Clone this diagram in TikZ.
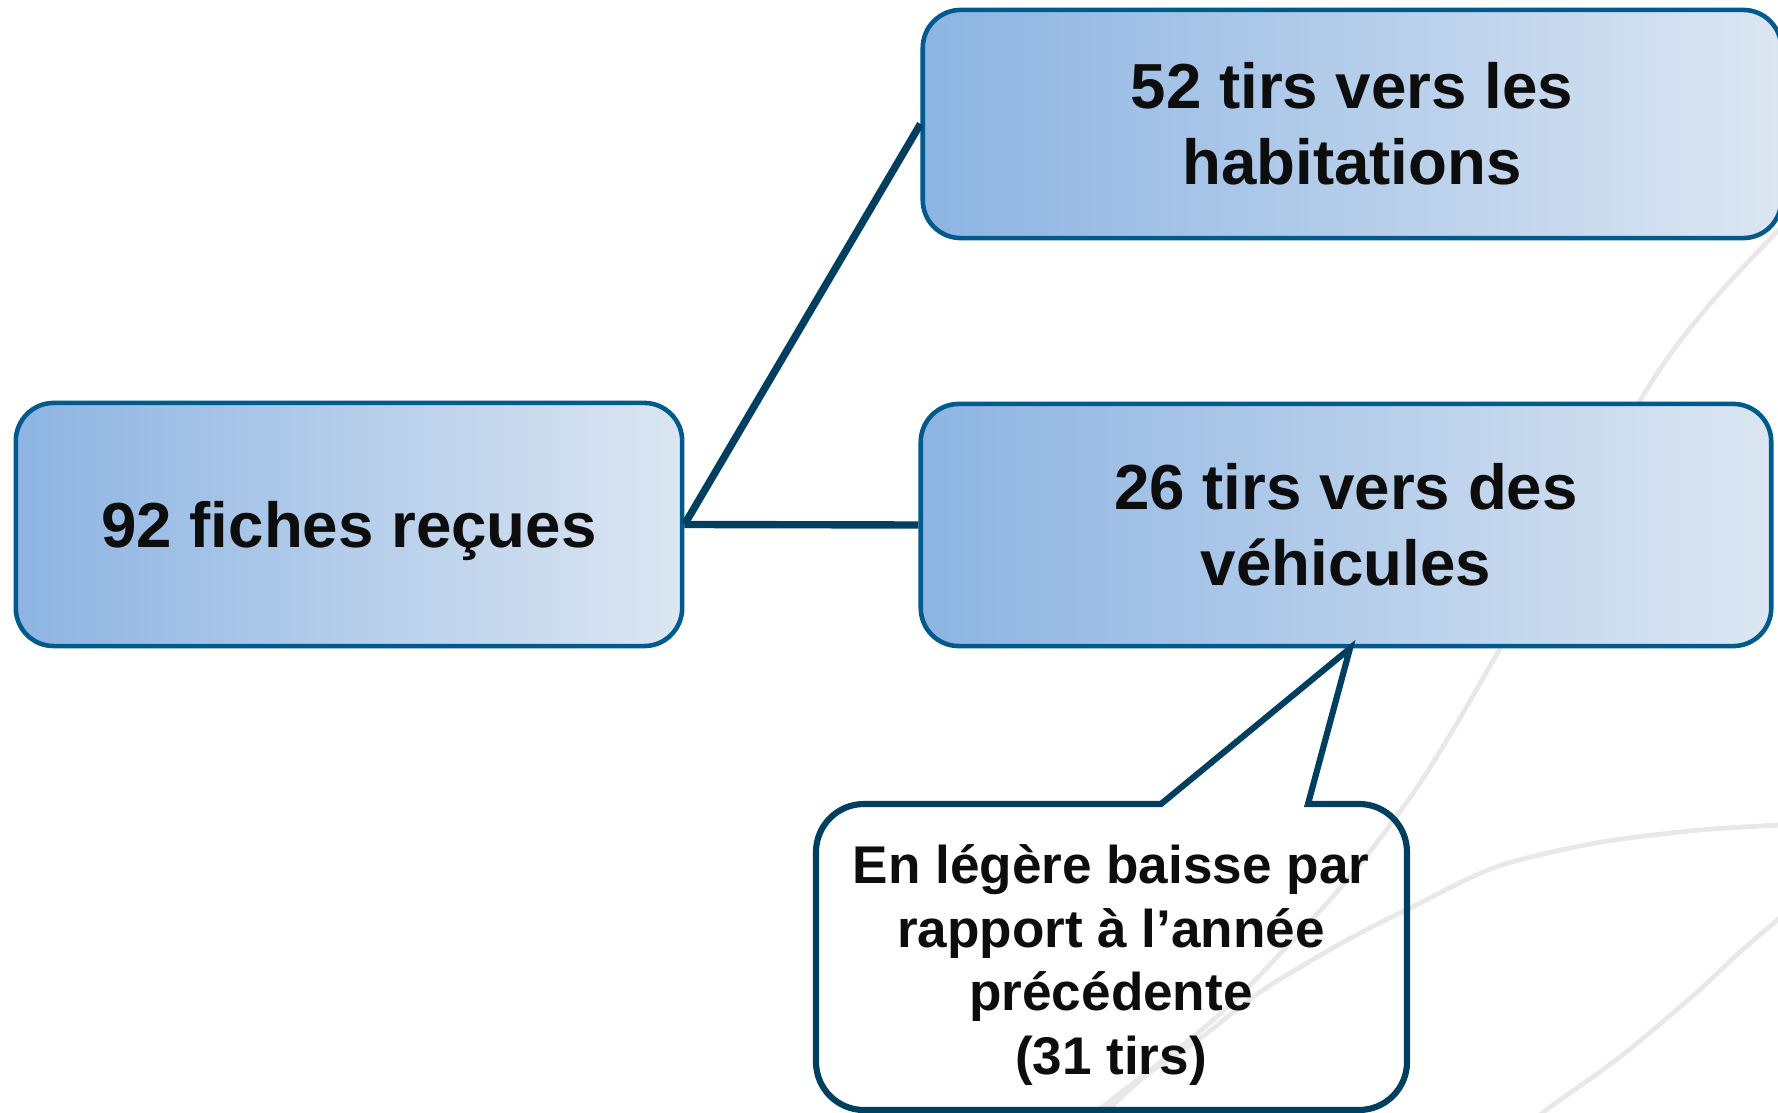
\documentclass[tikz,border=0pt]{standalone}
\usepackage{fontspec}
\setmainfont{Liberation Sans}
\definecolor{boxborder}{RGB}{0,90,140}
\definecolor{linkcol}{RGB}{0,63,95}
\definecolor{gradL}{RGB}{141,180,226}
\definecolor{gradR}{RGB}{220,230,242}
\definecolor{swirl}{RGB}{232,232,232}
\definecolor{txt}{RGB}{13,13,13}
\begin{document}
\begin{tikzpicture}[x=0.01cm,y=0.01cm,
  gbox/.style={draw=boxborder,line width=1.3pt,rounded corners=0.38cm,
    left color=gradL,right color=gradR,shading angle=90,
    align=center,inner sep=0pt,text=txt,
    font=\bfseries\fontsize{18.1}{21.7}\selectfont},
  link/.style={draw=linkcol,line width=2.1pt},
  bgcurve/.style={draw=swirl,line width=1.35pt},
  callouttext/.style={align=center,inner sep=0pt,text=txt,
    font=\bfseries\fontsize{15.1}{18.15}\selectfont}]
\useasboundingbox (0,0) rectangle (1778,-1113);
% background swirls
\draw[bgcurve] plot[smooth] coordinates {(1800,-208) (1710,-304) (1641,-399) (1501,-647) (1422,-780) (1347,-880) (1258,-977) (1198,-1033) (1099,-1110) (1090,-1125)};
\draw[bgcurve] plot[smooth] coordinates {(1800,-824) (1700,-830) (1596,-843) (1496,-867) (1412,-907) (1347,-940) (1263,-990) (1198,-1040) (1144,-1077) (1092,-1125)};
\draw[bgcurve] plot[smooth] coordinates {(1795,-905) (1740,-952) (1695,-994) (1620,-1057) (1546,-1110) (1535,-1122)};
% boxes
\node[gbox,minimum width=6.66cm,minimum height=2.43cm,text depth=0pt] (b0) at (349,-524.5) {92 fiches reçues};
\node[gbox,minimum width=8.58cm,minimum height=2.28cm] (b1) at (1352,-124) {52 tirs vers les\\habitations};
\node[gbox,minimum width=8.50cm,minimum height=2.42cm] (b2) at (1346,-525) {26 tirs vers des\\véhicules};
% connectors
\draw[link] (b0.east) -- (b1.west);
\draw[link] (b0.east) -- (b2.west);
% callout
\node[callouttext] (c) at (1111,-965) {En légère baisse par\\rapport à l’année\\précédente\\(31 tirs)};
\coordinate (cl) at (1161,-804);
\coordinate (cr) at (1308,-804);
\draw[draw=linkcol,line width=1.75pt,line join=miter]
  (cl) -- (864,-804) arc(90:180:0.48cm) -- (816,-1062) arc(180:270:0.48cm)
  -- (1359,-1110) arc(270:360:0.48cm) -- (1407,-852) arc(0:90:0.48cm)
  -- (cr) -- ([xshift=0.04cm]b2.south) -- cycle;
\end{tikzpicture}
\end{document}
